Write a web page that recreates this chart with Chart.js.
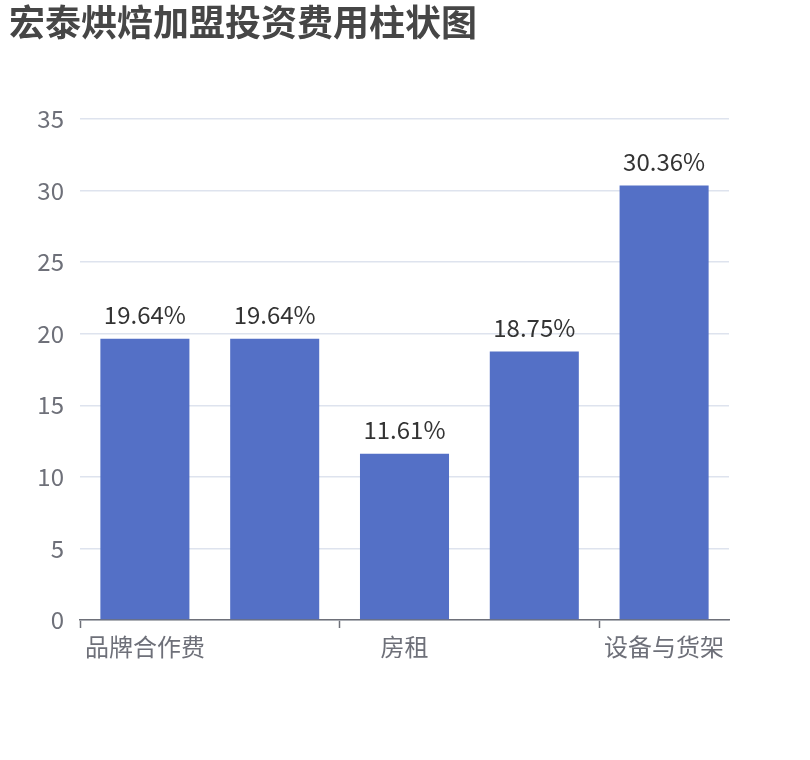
<!DOCTYPE html>
<html>
<head>
<meta charset="utf-8">
<script src="https://cdn.jsdelivr.net/npm/chart.js@4"></script>
<style>
  html, body { margin: 0; padding: 0; background: #fff; }
  #wrap { width: 810px; height: 760px; }
</style>
</head>
<body>
<div id="wrap"><canvas id="myChart" width="810" height="760"></canvas></div>
<script>
// data
var categories = ['品牌合作费', '加盟费', '房租', '装修费', '设备与货架'];
var shares = [19.64, 19.64, 11.61, 18.75, 30.36];
var yTicks = [0, 5, 10, 15, 20, 25, 30, 35];

var titleText = '宏泰烘焙加盟投资费用柱状图';
var fontFamily = '"Noto Sans CJK SC", "Noto Sans", sans-serif';

// title + value labels drawn on top
var labelPlugin = {
    id: 'labels',
    afterDraw: function (chart) {
        var c = chart.ctx;
        c.save();
        c.fillStyle = '#464646';
        c.font = 'bold 36px ' + fontFamily;
        c.textAlign = 'left';
        c.textBaseline = 'top';
        c.fillText(titleText, 9, 4);

        c.fillStyle = '#333';
        c.font = '24px ' + fontFamily;
        c.textAlign = 'center';
        c.textBaseline = 'bottom';
        chart.getDatasetMeta(0).data.forEach(function (bar, i) {
            c.fillText(shares[i].toFixed(2) + '%', bar.x, bar.y - 12);
        });
        c.restore();
    }
};

var ctx = document.getElementById('myChart').getContext('2d');
var chart = new Chart(ctx, {
    type: 'bar',
    data: {
        labels: categories,
        datasets: [{
            data: shares,
            backgroundColor: '#5470c6',
            borderWidth: 0,
            barPercentage: 0.686,
            categoryPercentage: 1
        }]
    },
    options: {
        responsive: false,
        animation: false,
        layout: { padding: { top: 119, right: 81, left: 0, bottom: 0 } },
        plugins: {
            legend: { display: false },
            tooltip: { enabled: false }
        },
        scales: {
            x: {
                grid: {
                    offset: true,
                    drawOnChartArea: false,
                    tickLength: 8,
                    tickWidth: 1.5,
                    tickColor: function (c) {
                        return (c.index % 2 === 0 || c.index === categories.length) ? '#6E7079' : 'rgba(0,0,0,0)';
                    }
                },
                border: { color: '#6E7079', width: 1.5 },
                ticks: {
                    autoSkip: false,
                    maxRotation: 0,
                    color: '#6E7079',
                    font: { size: 24, family: fontFamily },
                    padding: 4,
                    callback: function (v, i) { return i % 2 === 0 ? categories[i] : ''; }
                },
                afterFit: function (s) { s.height = 140; }
            },
            y: {
                min: 0,
                max: 35,
                afterBuildTicks: function (s) {
                    s.ticks = yTicks.map(function (v) { return { value: v }; });
                },
                grid: { color: '#DEE3EE', drawTicks: false, lineWidth: 1.5 },
                border: { display: false },
                ticks: {
                    color: '#6E7079',
                    font: { size: 24, family: fontFamily },
                    padding: 16
                },
                afterFit: function (s) { s.width = 80; }
            }
        }
    },
    plugins: [labelPlugin]
});
</script>
</body>
</html>
